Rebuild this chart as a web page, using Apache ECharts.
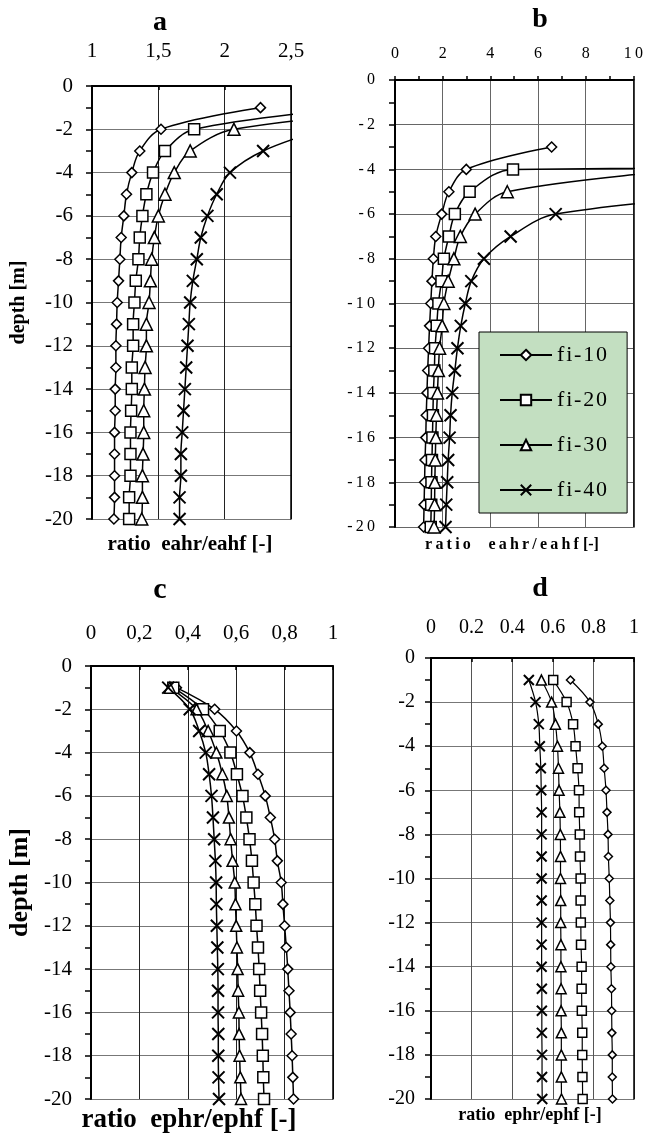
<!DOCTYPE html>
<html>
<head>
<meta charset="utf-8">
<script src="https://cdn.jsdelivr.net/npm/echarts@6/dist/echarts.min.js"></script>
<style>
  html, body { margin: 0; padding: 0; background: #fff; }
  #chart { width: 646px; height: 1135px; }
</style>
</head>
<body>
<div id="chart"></div>
<script>
/* Four depth profiles (a-d), ratio vs depth for fi-10..fi-40.
   Values; a few first points sit off-chart on purpose
   so the clipped curves leave the plot at the right edge like the original. */
const DEPTH = [-1, -2, -3, -4, -5, -6, -7, -8, -9, -10, -11, -12, -13, -14, -15, -16, -17, -18, -19, -20];
const NAMES = ["fi-10", "fi-20", "fi-30", "fi-40"];

// panel a: ratio eahr/eahf
const A10 = [2.27, 1.52, 1.36, 1.30, 1.26, 1.24, 1.22, 1.21, 1.20, 1.19, 1.185, 1.18, 1.18, 1.175, 1.175, 1.17, 1.17, 1.17, 1.17, 1.165];
const A20 = [3.0, 1.77, 1.55, 1.46, 1.41, 1.38, 1.36, 1.35, 1.33, 1.32, 1.31, 1.31, 1.30, 1.30, 1.295, 1.29, 1.29, 1.29, 1.28, 1.28];
const A30 = [3.6, 2.07, 1.74, 1.62, 1.55, 1.50, 1.47, 1.45, 1.44, 1.43, 1.41, 1.41, 1.40, 1.395, 1.39, 1.39, 1.385, 1.38, 1.38, 1.375];
const A40 = [null, 2.75, 2.29, 2.04, 1.94, 1.87, 1.82, 1.79, 1.76, 1.74, 1.73, 1.72, 1.71, 1.70, 1.69, 1.68, 1.67, 1.67, 1.66, 1.66];

// panel b: ratio eahr/eahf (wider scale)
const B10 = [null, null, 6.57, 2.99, 2.26, 1.96, 1.71, 1.61, 1.55, 1.50, 1.45, 1.41, 1.37, 1.34, 1.31, 1.29, 1.26, 1.24, 1.22, 1.20];
const B20 = [null, null, 150, 4.95, 3.13, 2.51, 2.26, 2.05, 1.95, 1.82, 1.75, 1.68, 1.65, 1.61, 1.59, 1.57, 1.55, 1.53, 1.52, 1.50];
const B30 = [null, null, null, 12.5, 4.71, 3.36, 2.74, 2.47, 2.23, 2.05, 1.98, 1.87, 1.82, 1.78, 1.74, 1.71, 1.69, 1.67, 1.66, 1.64];
const B40 = [null, null, null, null, 16, 6.74, 4.85, 3.73, 3.20, 2.95, 2.76, 2.62, 2.51, 2.40, 2.33, 2.29, 2.23, 2.19, 2.15, 2.12];

// panel c: ratio ephr/ephf
const C10 = [0.353, 0.511, 0.601, 0.656, 0.69, 0.72, 0.741, 0.759, 0.770, 0.786, 0.793, 0.80, 0.807, 0.813, 0.818, 0.823, 0.827, 0.831, 0.834, 0.837];
const C20 = [0.34, 0.463, 0.532, 0.576, 0.603, 0.626, 0.642, 0.655, 0.665, 0.672, 0.679, 0.684, 0.69, 0.695, 0.699, 0.703, 0.707, 0.710, 0.712, 0.715];
const C30 = [0.326, 0.436, 0.484, 0.518, 0.543, 0.561, 0.570, 0.577, 0.585, 0.594, 0.597, 0.600, 0.603, 0.606, 0.608, 0.611, 0.612, 0.614, 0.617, 0.62];
const C40 = [0.319, 0.408, 0.447, 0.474, 0.488, 0.498, 0.504, 0.509, 0.514, 0.517, 0.518, 0.520, 0.522, 0.524, 0.525, 0.525, 0.526, 0.526, 0.527, 0.529];

// panel d: ratio ephr/ephf
const D10 = [0.687, 0.783, 0.824, 0.844, 0.853, 0.862, 0.867, 0.872, 0.874, 0.878, 0.881, 0.884, 0.885, 0.886, 0.889, 0.890, 0.891, 0.893, 0.893, 0.894];
const D20 = [0.602, 0.668, 0.70, 0.712, 0.722, 0.729, 0.730, 0.733, 0.734, 0.737, 0.737, 0.738, 0.739, 0.742, 0.742, 0.743, 0.745, 0.745, 0.746, 0.747];
const D30 = [0.544, 0.594, 0.613, 0.623, 0.628, 0.631, 0.635, 0.637, 0.638, 0.638, 0.639, 0.639, 0.640, 0.640, 0.641, 0.641, 0.642, 0.642, 0.642, 0.643];
const D40 = [0.482, 0.515, 0.531, 0.536, 0.541, 0.543, 0.545, 0.545, 0.545, 0.545, 0.545, 0.545, 0.545, 0.545, 0.546, 0.546, 0.546, 0.547, 0.547, 0.548];

const FONT = "'Liberation Serif', 'Times New Roman', serif";
const SYMBOLS = ["diamond", "rect", "triangle", "path://M0,0L10,10M10,0L0,10"];
const sp = (s) => String(s).split("").join("\u2009"); // excel-ish letter spacing
const hsp = (s) => String(s).split("").join("\u200a"); // tighter, for the legend
const comma = (v) => String(v).replace(".", ",");
const pts = (vals) => vals.map((v, i) => (v == null ? null : [v, DEPTH[i]])).filter(Boolean);

const PANELS = [
  { grid: { left: 92, top: 86, width: 199, height: 433 }, x: [1, 2.5, 0.5], xFmt: comma, yFmt: String,
    data: [A10, A20, A30, A40], fs: 21, xMargin: 24, yMargin: 19, vGrid: "#222", hGrid: "#777",
    sym: [10, 11, 12, 12], lw: 1.5, yName: "depth [m]", yNameSize: 20, yNameGap: 63 },
  { grid: { left: 395, top: 80, width: 242, height: 447 }, x: [0, 10, 2], xFmt: sp, yFmt: sp,
    data: [B10, B20, B30, B40], fs: 16, xMargin: 18, yMargin: 20, vGrid: "#666", hGrid: "#666",
    sym: [10, 11, 12, 12], lw: 1.5, minorX: true },
  { grid: { left: 91, top: 666, width: 242, height: 433 }, x: [0, 1, 0.2], xFmt: comma, yFmt: String,
    data: [C10, C20, C30, C40], fs: 21, xMargin: 22, yMargin: 19, vGrid: "#222", hGrid: "#777",
    sym: [10, 11, 11, 12], lw: 1.5, yName: "depth [m]", yNameSize: 26, yNameGap: 58 },
  { grid: { left: 431, top: 658, width: 203, height: 441 }, x: [0, 1, 0.2], xFmt: String, yFmt: String,
    data: [D10, D20, D30, D40], fs: 20, xMargin: 20, yMargin: 16, vGrid: "#555", hGrid: "#777",
    sym: [8, 9, 10, 10], lw: 1.2 },
];

const grid = [], xAxis = [], yAxis = [], series = [];
PANELS.forEach((p, i) => {
  grid.push(p.grid);
  xAxis.push({
    type: "value", gridIndex: i, position: "top", min: p.x[0], max: p.x[1], interval: p.x[2],
    axisLine: { show: true, onZero: false, lineStyle: { color: "#000", width: 2 } },
    axisTick: { show: true, inside: !p.minorX, length: 4, lineStyle: { color: "#000", width: 1.5 } },
    minorTick: { show: !!p.minorX, splitNumber: 2, length: 4, lineStyle: { color: "#000", width: 1.5 } },
    axisLabel: { margin: p.xMargin, fontFamily: FONT, fontSize: p.fs, color: "#000", formatter: p.xFmt },
    splitLine: { show: true, lineStyle: { color: p.vGrid, width: 1 } },
  });
  yAxis.push({
    type: "value", gridIndex: i, position: "left", min: -20, max: 0, interval: 2,
    axisLine: { show: true, onZero: false, lineStyle: { color: "#000", width: 2 } },
    axisTick: { show: true, inside: false, length: 6, lineStyle: { color: "#000", width: 1.5 } },
    minorTick: { show: true, splitNumber: 2, length: 6, lineStyle: { color: "#000", width: 1.5 } },
    axisLabel: { margin: p.yMargin, fontFamily: FONT, fontSize: p.fs, color: "#000", formatter: p.yFmt },
    splitLine: { show: true, lineStyle: { color: p.hGrid, width: 1 } },
    name: p.yName || "", nameLocation: "middle", nameRotate: 90, nameGap: p.yNameGap || 0,
    nameTextStyle: { fontFamily: FONT, fontWeight: "bold", fontSize: p.yNameSize || 12, color: "#000" },
  });
  // right border of the plot
  yAxis.push({
    type: "value", gridIndex: i, position: "right", min: -20, max: 0,
    axisLine: { show: true, onZero: false, lineStyle: { color: "#000", width: 1.5 } },
    axisTick: { show: false }, axisLabel: { show: false }, splitLine: { show: false },
  });
  p.data.forEach((vals, k) => {
    series.push({
      type: "line", name: NAMES[k], xAxisIndex: i, yAxisIndex: i * 2, data: pts(vals),
      smooth: 0.35, symbol: SYMBOLS[k], symbolSize: p.sym[k], showAllSymbol: true, clip: true,
      lineStyle: { color: "#000", width: p.lw },
      itemStyle: { color: "#fff", borderColor: "#000", borderWidth: k === 3 ? 2 : 1.5 },
      emphasis: { disabled: true },
    });
  });
});

const txt = (text, x, y, size) => ({
  type: "text", x, y, silent: true,
  style: { text, font: `bold ${size}px ${FONT}`, fill: "#000",
    textAlign: "center", textVerticalAlign: "middle", align: "center", verticalAlign: "middle" },
});

const chart = echarts.init(document.getElementById("chart"));
chart.setOption({
  animation: false,
  backgroundColor: "#fff",
  grid, xAxis, yAxis, series,
  legend: {
    data: NAMES, orient: "vertical", left: 479, top: 332, padding: [12, 20, 12, 20],
    itemGap: 23, itemWidth: 52, itemHeight: 13, selectedMode: false,
    backgroundColor: "#c3dfc1", borderColor: "#000", borderWidth: 1,
    textStyle: { fontFamily: FONT, fontSize: 22, color: "#000" }, formatter: hsp,
  },
  graphic: [
    txt("a", 160, 23, 28), txt("b", 540, 20, 28), txt("c", 160, 590, 30), txt("d", 540, 589, 28),
    txt("ratio  eahr/eahf [-]", 190, 545, 21),
    txt(sp("ratio  eahr/eahf") + " [-]", 512, 545, 16),
    txt("ratio  ephr/ephf [-]", 189, 1120, 27),
    txt("ratio  ephr/ephf [-]", 530, 1115, 18),
  ],
});
</script>
</body>
</html>
